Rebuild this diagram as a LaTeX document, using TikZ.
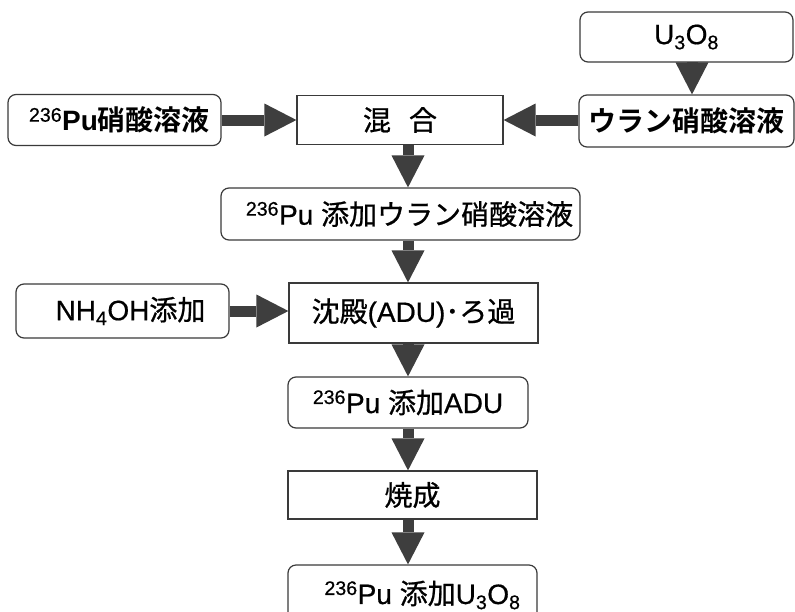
\documentclass[tikz,border=0pt]{standalone}
\usepackage{fontspec}
\setmainfont{Liberation Sans}[FakeBold=0.6]
\newfontfamily\jp{Noto Sans CJK JP}[FakeBold=0.8]
\newfontfamily\jpb{Noto Sans CJK JP Bold}
\newfontfamily\latb{Liberation Sans Bold}
\usetikzlibrary{arrows.meta}
\definecolor{boxc}{HTML}{3A3A3A}
\definecolor{arrc}{HTML}{3E3E3E}
\begin{document}
\begin{tikzpicture}[x=1pt,y=-1pt,
  every node/.style={font=\fontsize{28}{32}\selectfont, inner sep=0pt, text=black},
  rbox/.style={draw=boxc, line width=1.2pt, rounded corners=8pt, fill=white},
  pbox/.style={draw=boxc, line width=1.2pt, fill=white},
  arr/.style={draw=arrc, line width=11pt, -{Triangle[length=32pt,width=33pt,line width=0pt]}, arrc}]
\useasboundingbox (0,0) rectangle (795,611);
\coordinate (col) at (408,0);
\coordinate (ucol) at (692,0);

\node[rbox, minimum width=213pt, minimum height=51pt] (A) at (114.5,120) {\hspace*{10pt}\textsuperscript{236}{\latb Pu}{\jpb 硝酸溶液}};
\node[pbox, minimum width=206pt, minimum height=49pt] (B) at (400,120) {{\jp 混\hspace{18pt}合}};
\node[rbox, minimum width=215pt, minimum height=52pt] (C) at (686.5,121) {{\jpb ウラン硝酸溶液}};
\node[rbox, minimum width=213pt, minimum height=50pt] (D) at (686.5,37) {U\textsubscript{3}O\textsubscript{8}};
\node[rbox, minimum width=359pt, minimum height=52pt] (E) at (400.5,214) {\hspace*{18pt}\textsuperscript{236}Pu {\jp 添加ウラン硝酸溶液}};
\node[rbox, minimum width=213pt, minimum height=54pt] (F) at (122.5,311) {\hspace*{16pt}NH\textsubscript{4}OH{\jp 添加}};
\node[pbox, minimum width=249pt, minimum height=60pt] (G) at (413.5,313) {{\jp 沈殿}(ADU){\jp ･ろ過}};
\node[rbox, minimum width=240pt, minimum height=51pt] (H) at (408,402.5) {\textsuperscript{236}Pu {\jp 添加}ADU};
\node[pbox, minimum width=249pt, minimum height=48pt] (I) at (412.5,495) {{\jp 焼成}};
\node[rbox, minimum width=249pt, minimum height=60pt] (J) at (412.5,595) {\hspace*{20pt}\textsuperscript{236}Pu {\jp 添加}U\textsubscript{3}O\textsubscript{8}};

\draw[arr] (A.east) -- (B.west);
\draw[arr] (C.west |- B.east) -- (B.east);
\draw[arr] (D.south -| ucol) -- (C.north -| ucol);
\draw[arr] (B.south -| col) -- (E.north -| col);
\draw[arr] (E.south -| col) -- (G.north -| col);
\draw[arr] (F.east) -- (F.east -| G.west);
\draw[arr] (G.south -| col) -- (H.north -| col);
\draw[arr] (H.south -| col) -- (I.north -| col);
\draw[arr] (I.south -| col) -- (J.north -| col);
\end{tikzpicture}
\end{document}
